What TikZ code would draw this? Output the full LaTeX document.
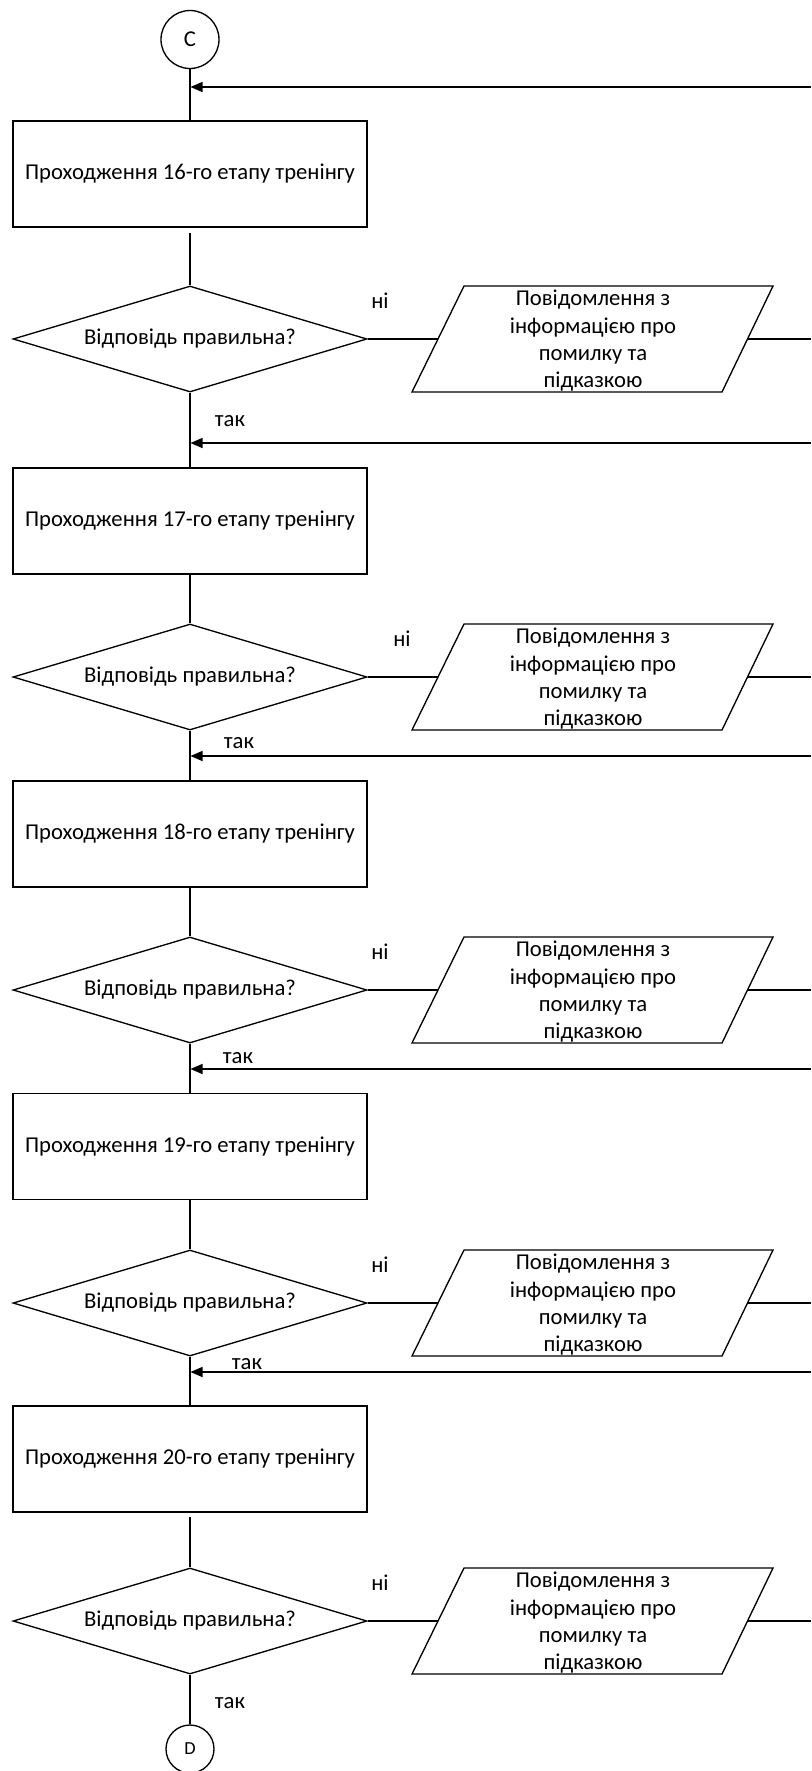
\documentclass[tikz,border=0pt]{standalone}
\usepackage{fontspec}
\setmainfont{Carlito}
\usetikzlibrary{shapes.geometric,arrows.meta,calc}
\begin{document}
\begin{tikzpicture}[x=0.75pt,y=-0.75pt,
  every node/.style={font=\fontsize{17}{20.5}\selectfont, inner sep=0pt},
  ln/.style={line width=1pt, draw=black},
  procbox/.style={draw, line width=1pt, rectangle, minimum width=265.5pt, minimum height=79.5pt},
  decbox/.style={draw, line width=1pt, diamond, shape aspect=3.34, minimum width=265.5pt, minimum height=79.5pt},
  msgtext/.style={align=center},
  conn/.style={draw, line width=1pt, circle, minimum size=43.5pt},
  arr/.style={line width=1pt, -{Triangle[length=9pt,width=7.5pt]}}
]
\useasboundingbox (0,0) rectangle (811,1771);
\node[conn] (C) at (190,39.5) {C};
\node[conn, minimum size=36pt, font=\fontsize{13.8}{16}\selectfont] (D) at (190,1749) {D};
\foreach \i/\st/\ry/\dy/\ay/\nx/\tx/\ty in {1/16/174/339/87/380/230/421, 2/17/521/677/443/402/239/743, 3/18/834/990/756/380/238/1058, 4/19/1146.5/1303/1069/380/247/1364, 5/20/1459/1621/1372/380/230/1703}{
  \node[procbox] (r\i) at (190,\ry) {Проходження \st-го етапу тренінгу};
  \node[decbox] (d\i) at (190,\dy) {Відповідь правильна?};
  \node[msgtext] (m\i) at (593,\dy+2) {Повідомлення з\\інформацією про\\помилку та\\підказкою};
  \coordinate (pl\i) at (438,\dy);
  \coordinate (pr\i) at (747.5,\dy);
  \coordinate (e\i) at (811,\dy);
  \draw[ln] (464,\dy-53) -- (773,\dy-53) -- (722,\dy+53) -- (412,\dy+53) -- cycle;
  \draw[ln] (d\i.east) -- (pl\i);
  \draw[ln] (pr\i) -- (e\i);
  \node (n\i) at (\nx,\dy-38) {ні};
  \node (t\i) at (\tx,\ty) {так};
  \coordinate (a\i) at (811,\ay);
  \coordinate (j\i) at (190.5,\ay);
  \draw[arr] (a\i) -- (j\i);
}
\coordinate (g1) at (190,233);
\coordinate (g5) at (190,1517);
\draw[ln] (C.south) -- (r1.north);
\draw[ln] (g1) -- (d1.north);
\draw[ln] (d1.south) -- (r2.north);
\draw[ln] (r2.south) -- (d2.north);
\draw[ln] (d2.south) -- (r3.north);
\draw[ln] (r3.south) -- (d3.north);
\draw[ln] (d3.south) -- (r4.north);
\draw[ln] (r4.south) -- (d4.north);
\draw[ln] (d4.south) -- (r5.north);
\draw[ln] (g5) -- (d5.north);
\draw[ln] (d5.south) -- (D.north);
\end{tikzpicture}
\end{document}
